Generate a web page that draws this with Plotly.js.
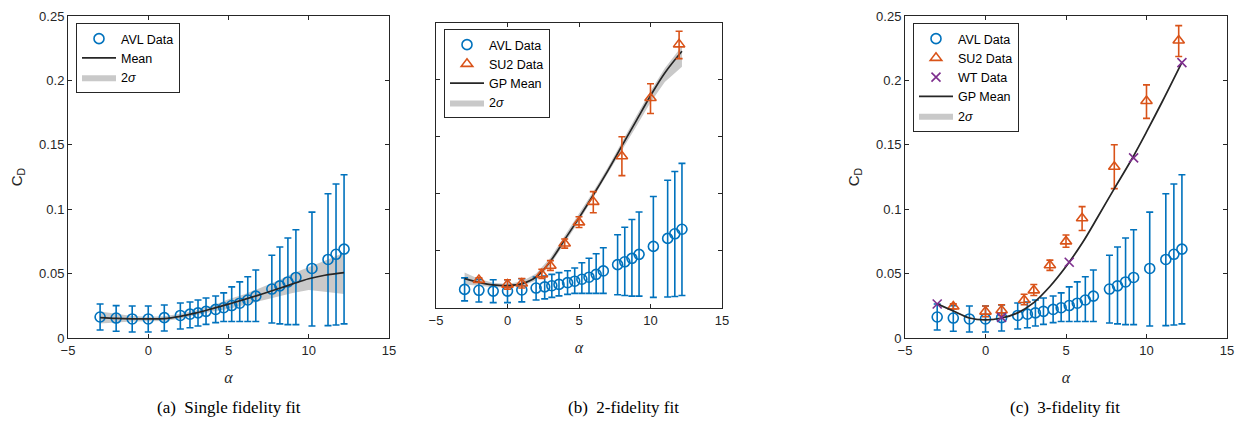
<!DOCTYPE html>
<html>
<head>
<meta charset="utf-8">
<script src="https://cdn.plot.ly/plotly-3.0.1.min.js"></script>
<style>html,body{margin:0;padding:0;background:#fff;}#chart{width:1235px;height:422px;}</style>
</head>
<body>
<div id="chart"></div>
<script>
// ---- data ----
const AVL_X  = [-3,-2,-1,0,1,2,2.6,3.1,3.6,4.2,4.7,5.2,5.7,6.2,6.7,7.7,8.2,8.7,9.2,10.2,11.2,11.7,12.2];
const AVL_Y  = [0.0163,0.0155,0.0148,0.0148,0.0158,0.0175,0.0185,0.0195,0.0207,0.0222,0.0235,0.0252,0.0270,0.0295,0.0325,0.0380,0.0405,0.0435,0.0470,0.0540,0.0610,0.0650,0.0690];
const AVL_HI = [0.0264,0.0251,0.0248,0.0248,0.0256,0.0272,0.0280,0.0295,0.0310,0.0326,0.0350,0.0397,0.0436,0.0476,0.0528,0.0642,0.0707,0.0776,0.0841,0.0977,0.1120,0.1196,0.1267];
const AVL_LO = [0.0062,0.0052,0.0047,0.0047,0.0054,0.0070,0.0080,0.0093,0.0106,0.0119,0.0128,0.0128,0.0128,0.0128,0.0128,0.0116,0.0110,0.0104,0.0104,0.0093,0.0096,0.0101,0.0110];

const SU2_X  = [-2,0,1,2.4,3,4,5,6,8,10,12];
const SU2_Y  = [0.0245,0.0205,0.0215,0.0295,0.0370,0.0565,0.0750,0.0930,0.1330,0.1840,0.2310];
const SU2_HI = [0.0265,0.0248,0.0258,0.0340,0.0415,0.0605,0.0800,0.1020,0.1500,0.1965,0.2425];
const SU2_LO = [0.0225,0.0165,0.0175,0.0258,0.0330,0.0525,0.0705,0.0835,0.1160,0.1705,0.2185];

const WT_X = [-3,1,5.2,9.2,12.2];
const WT_Y = [0.0264,0.0160,0.0588,0.1398,0.2138];

const FIT_X = [-3,-2,-1,0,1,2,3,4,5,6,7,8,9,10,11,12.2];
// (a) single fidelity
const A_MEAN  = [0.0158,0.0152,0.0149,0.0148,0.0150,0.0168,0.0195,0.0228,0.0263,0.0300,0.0338,0.0378,0.0420,0.0460,0.0487,0.0507];
const A_UPPER = [0.0205,0.0185,0.0170,0.0165,0.0168,0.0188,0.0215,0.0250,0.0300,0.0340,0.0390,0.0440,0.0500,0.0553,0.0600,0.0662];
const A_LOWER = [0.0112,0.0120,0.0128,0.0131,0.0132,0.0150,0.0175,0.0205,0.0226,0.0258,0.0290,0.0320,0.0350,0.0372,0.0360,0.0342];
// (b) 2-fidelity
const B_MEAN  = [0.0257,0.0225,0.0202,0.0196,0.0213,0.0272,0.0410,0.0600,0.0790,0.0990,0.1200,0.1420,0.1640,0.1860,0.2060,0.2250];
const B_UPPER = [0.0310,0.0255,0.0222,0.0211,0.0233,0.0302,0.0440,0.0630,0.0820,0.1020,0.1230,0.1460,0.1680,0.1900,0.2100,0.2295];
const B_LOWER = [0.0205,0.0195,0.0182,0.0181,0.0193,0.0242,0.0380,0.0570,0.0760,0.0960,0.1170,0.1380,0.1590,0.1800,0.1980,0.2115];
// (c) 3-fidelity
const C_MEAN  = [0.0265,0.0210,0.0155,0.0140,0.0155,0.0195,0.0275,0.0400,0.0555,0.0735,0.0945,0.1160,0.1370,0.1600,0.1840,0.2140];
const C_UPPER = [0.0272,0.0216,0.0160,0.0145,0.0160,0.0200,0.0281,0.0407,0.0562,0.0743,0.0953,0.1168,0.1378,0.1608,0.1848,0.2148];
const C_LOWER = [0.0258,0.0204,0.0150,0.0135,0.0150,0.0190,0.0269,0.0393,0.0548,0.0727,0.0937,0.1152,0.1362,0.1592,0.1832,0.2132];

const CAPTIONS = ['(a)  Single fidelity fit','(b)  2-fidelity fit','(c)  3-fidelity fit'];

// ---- styles ----
const BLUE='#0072BD', ORANGE='#D95319', PURPLE='#7E2F8E', DARK='#262626', BAND='rgba(195,195,195,0.9)';
const SANS='Liberation Sans, Arial, sans-serif', SERIF='Liberation Serif, Times New Roman, serif';

function band(x, lo, hi, xa, ya, leg, show){
  return {x: x.concat(x.slice().reverse()), y: hi.concat(lo.slice().reverse()),
    xaxis:xa, yaxis:ya, type:'scatter', mode:'lines', fill:'toself', fillcolor:BAND,
    line:{width:0, color:BAND}, name:'2<i>σ</i>', legend:leg, showlegend:show, legendrank:5, hoverinfo:'skip'};
}
function meanLine(x, y, xa, ya, leg, name){
  return {x:x, y:y, xaxis:xa, yaxis:ya, type:'scatter', mode:'lines', line:{color:DARK, width:1.7, shape:'spline', smoothing:1},
    name:name, legend:leg, legendrank:4};
}
function errPts(x, y, hi, lo, xa, ya, leg, name, color, symbol, rank){
  return {x:x, y:y, xaxis:xa, yaxis:ya, type:'scatter', mode:'markers', name:name, legend:leg, legendrank:rank,
    marker:{symbol:symbol, size:10, color:color, line:{color:color, width:1.6}},
    error_y:{type:'data', symmetric:false, array:hi.map((h,i)=>h-y[i]), arrayminus:lo.map((l,i)=>y[i]-l),
      color:color, thickness:1.6, width:3.5}};
}

const traces = [
  band(FIT_X, A_LOWER, A_UPPER, 'x', 'y', 'legend', true),
  errPts(AVL_X, AVL_Y, AVL_HI, AVL_LO, 'x', 'y', 'legend', 'AVL Data', BLUE, 'circle-open', 1),
  meanLine(FIT_X, A_MEAN, 'x', 'y', 'legend', 'Mean'),

  band(FIT_X, B_LOWER, B_UPPER, 'x2', 'y2', 'legend2', true),
  errPts(AVL_X, AVL_Y, AVL_HI, AVL_LO, 'x2', 'y2', 'legend2', 'AVL Data', BLUE, 'circle-open', 1),
  meanLine(FIT_X, B_MEAN, 'x2', 'y2', 'legend2', 'GP Mean'),
  errPts(SU2_X, SU2_Y, SU2_HI, SU2_LO, 'x2', 'y2', 'legend2', 'SU2 Data', ORANGE, 'triangle-up-open', 2),

  band(FIT_X, C_LOWER, C_UPPER, 'x3', 'y3', 'legend3', true),
  errPts(AVL_X, AVL_Y, AVL_HI, AVL_LO, 'x3', 'y3', 'legend3', 'AVL Data', BLUE, 'circle-open', 1),
  errPts(SU2_X, SU2_Y, SU2_HI, SU2_LO, 'x3', 'y3', 'legend3', 'SU2 Data', ORANGE, 'triangle-up-open', 2),
  meanLine(FIT_X, C_MEAN, 'x3', 'y3', 'legend3', 'GP Mean'),
  {x:WT_X, y:WT_Y, xaxis:'x3', yaxis:'y3', type:'scatter', mode:'markers', name:'WT Data', legend:'legend3', legendrank:3,
   marker:{symbol:'x-thin-open', size:9, color:PURPLE, line:{color:PURPLE, width:1.6}}}
];

const W=1235, H=422;
function xax(l, r){
  return {domain:[l/W, r/W], range:[-5,15], dtick:5, tick0:-5, ticks:'inside', ticklen:4, tickcolor:DARK,
    showline:true, linecolor:DARK, linewidth:1, mirror:'allticks', showgrid:false, zeroline:false,
    tickfont:{family:SANS, size:13, color:DARK},
    title:{text:'<i>α</i>', font:{family:SERIF, size:16, color:DARK}, standoff:15}};
}
function yax(t, b, anchor, labels){
  const ax = {domain:[1-b/H, 1-t/H], range:[0,0.25], dtick:0.05, tick0:0, ticks:'inside', ticklen:4, tickcolor:DARK,
    showline:true, linecolor:DARK, linewidth:1, mirror:'allticks', showgrid:false, zeroline:false, anchor:anchor,
    showticklabels:labels, tickfont:{family:SANS, size:13, color:DARK}};
  if (labels) ax.title = {text:'C<sub>D</sub>', font:{family:SANS, size:15, color:DARK}, standoff:12};
  return ax;
}
function leg(x, y){
  return {x:x/W, y:1-y/H, xanchor:'left', yanchor:'top', bgcolor:'#fff', bordercolor:DARK, borderwidth:1,
    font:{family:SANS, size:12.5, color:'#000'}, tracegroupgap:0, itemwidth:34, traceorder:'normal'};
}

const layout = {
  width:W, height:H, margin:{l:0, r:0, t:0, b:0}, paper_bgcolor:'#fff', plot_bgcolor:'#fff',
  xaxis: Object.assign(xax(68, 389), {anchor:'y'}),
  yaxis: yax(16, 338, 'x', true),
  xaxis2: Object.assign(xax(436, 722), {anchor:'y2'}),
  yaxis2: yax(22.7, 308, 'x2', false),
  xaxis3: Object.assign(xax(905, 1227), {anchor:'y3'}),
  yaxis3: yax(16, 338, 'x3', true),
  legend: leg(76, 23), legend2: leg(444, 29), legend3: leg(913, 23),
  annotations: [
    {text:CAPTIONS[0], x:229/W, y:1-407/H},
    {text:CAPTIONS[1], x:623/W, y:1-407/H},
    {text:CAPTIONS[2], x:1065/W, y:1-407/H}
  ].map(a=>Object.assign(a, {xref:'paper', yref:'paper', showarrow:false, xanchor:'center', yanchor:'middle',
      font:{family:SERIF, size:17, color:'#000'}})),
  showlegend:true
};

Plotly.newPlot('chart', traces, layout, {displayModeBar:false, staticPlot:true});
</script>
</body>
</html>
